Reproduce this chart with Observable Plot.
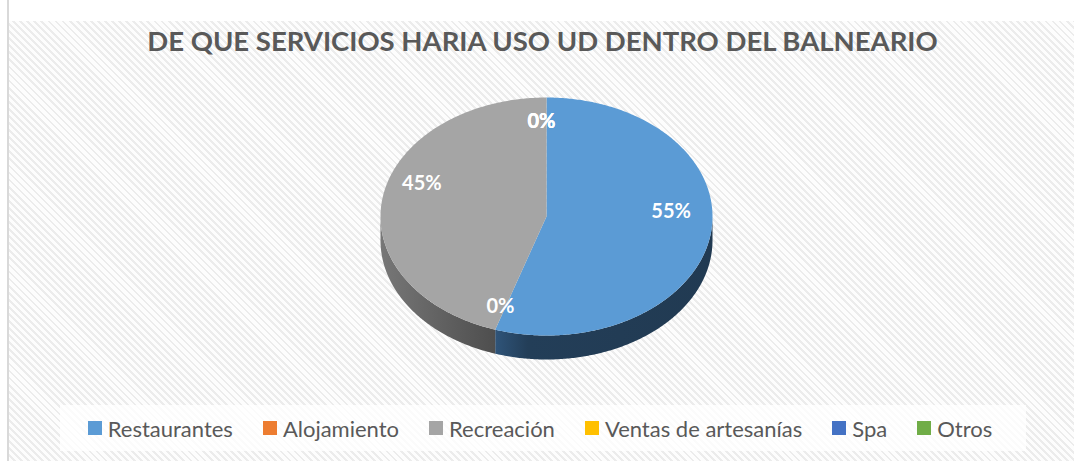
<!DOCTYPE html>
<html><head><meta charset="utf-8">
<script src="https://cdn.jsdelivr.net/npm/d3@7"></script>
<script src="https://cdn.jsdelivr.net/npm/@observablehq/plot@0.6"></script>
<style>
html,body{margin:0;padding:0;background:#fff;}
#wrap{position:relative;width:1074px;height:461px;overflow:hidden;background:#fff;}
#bg{position:absolute;left:9px;top:21px;right:0;bottom:0;background:repeating-linear-gradient(45deg,#fdfdfd 0 3px,#ececec 3px 5px);}
#border{position:absolute;left:7px;top:0;width:2px;height:461px;background:#d9d9d9;}
#chart{position:absolute;left:0;top:0;}
#chart svg{background:transparent !important;}
#legend{position:absolute;left:60px;top:405px;width:966px;height:46px;background:rgba(255,255,255,.8);display:flex;align-items:center;justify-content:center;}
#legend *{font-family:Lato,"Open Sans",sans-serif !important;font-size:22px !important;color:#595959 !important;}
#legend div{margin:0 0 0 -6px !important;min-height:0 !important;}
#legend .lg-swatch{margin-right:30px !important;}
#legend .lg-swatch:last-child{margin-right:0 !important;}
#legend .lg-swatch svg{margin-right:6px !important;}
g[aria-label="shadow"]{filter:blur(5px);}
</style>
</head><body>
<div id="wrap"><div id="bg"></div><div id="border"></div><div id="chart"></div><div id="legend"></div></div>
<script>
const title = "DE QUE SERVICIOS HARIA USO UD DENTRO DEL BALNEARIO";
const categories = ["Restaurantes","Alojamiento","Recreación","Ventas de artesanías","Spa","Otros"];
const values = [55, 0, 45, 0, 0, 0];
const colors = ["#5B9BD5","#ED7D31","#A5A5A5","#FFC000","#4472C4","#70AD47"];
const sideColors = ["url(#side0)","#7a3e18","url(#side2)","#7f6000","#22395f","#385723"];

const W = 1074, H = 461;
const cx = 546, cy = 216, rx = 166, ry = 119, depth = 24 / 119;

const total = d3.sum(values);
const arcs = d3.pie().sort(null).startAngle(0).endAngle(2 * Math.PI)(values);
const pt = (a, r = 1, dz = 0) => ({x: Math.sin(a) * r, y: -Math.cos(a) * r + dz});
function arcPts(a0, a1, r = 1, dz = 0) {
  const n = Math.max(2, Math.ceil((a1 - a0) / 0.01));
  return d3.range(n + 1).map(i => pt(a0 + (a1 - a0) * i / n, r, dz));
}

// top faces
const tops = [];
arcs.forEach((a, i) => {
  if (a.endAngle - a.startAngle <= 0) return;
  [{x: 0, y: 0}, ...arcPts(a.startAngle, a.endAngle)].forEach(p => tops.push({...p, cat: categories[i]}));
});
// side faces (front half only)
const sideMarks = [];
arcs.forEach((a, i) => {
  const s = Math.max(a.startAngle, Math.PI / 2), e = Math.min(a.endAngle, 3 * Math.PI / 2);
  if (e <= s) return;
  const pts = [...arcPts(s, e), ...arcPts(s, e, 1, depth).reverse()];
  sideMarks.push(Plot.line(pts, {x: "x", y: "y", fill: sideColors[i], stroke: "none"}));
});
// shadow
const shadow = arcPts(0, 2 * Math.PI, 1.01, depth + 0.05);
// labels
const labels = arcs.map((a, i) => {
  const mid = (a.startAngle + a.endAngle) / 2;
  const big = values[i] > 0;
  const p = pt(mid, big ? 0.76 : 0.8);
  return {...p, text: Math.round(values[i] / total * 100) + "%", big};
});

const plot = Plot.plot({
  width: W, height: H,
  margin: 0,
  style: {background: "transparent", overflow: "visible"},
  x: {domain: [-cx / rx, (W - cx) / rx], range: [0, W], axis: null},
  y: {domain: [-cy / ry, (H - cy) / ry], range: [0, H], axis: null},
  color: {domain: categories, range: colors},
  marks: [
    Plot.line(shadow, {x: "x", y: "y", fill: "#000", fillOpacity: 0.3, stroke: "none", ariaLabel: "shadow"}),
    ...sideMarks,
    Plot.line(tops, {x: "x", y: "y", z: "cat", fill: "cat", stroke: "none"}),
    Plot.text(labels.filter(d => d.big), {x: "x", y: "y", text: "text", fill: "white", fontWeight: "bold", fontSize: 20, fontFamily: "Lato", dy: -19}),
    Plot.text(labels.filter(d => !d.big), {x: "x", y: "y", text: "text", fill: "white", fontWeight: "bold", fontSize: 20, fontFamily: "Lato", dx: -5}),
    Plot.text([title], {frameAnchor: "top", dy: 42, dx: 5, text: d => d, fill: "#595959", fontWeight: "bold", fontSize: 27.5, fontFamily: "Lato", lineAnchor: "middle"})
  ]
});
// gradients for side faces
const defs = d3.select(plot).insert("defs", ":first-child");
const g0 = defs.append("linearGradient").attr("id", "side0").attr("x1", 0).attr("x2", 1).attr("y1", 0).attr("y2", 0);
g0.append("stop").attr("offset", 0).attr("stop-color", "#2f5479");
g0.append("stop").attr("offset", 0.15).attr("stop-color", "#233e58");
g0.append("stop").attr("offset", 1).attr("stop-color", "#213a52");
const g2 = defs.append("linearGradient").attr("id", "side2").attr("x1", 0).attr("x2", 1).attr("y1", 0).attr("y2", 0);
g2.append("stop").attr("offset", 0).attr("stop-color", "#777777");
g2.append("stop").attr("offset", 1).attr("stop-color", "#4e4e4e");
document.getElementById("chart").appendChild(plot);

const leg = Plot.legend({color: {domain: categories, range: colors}, swatchSize: 14, className: "lg"});
document.getElementById("legend").appendChild(leg);
</script>
</body></html>
